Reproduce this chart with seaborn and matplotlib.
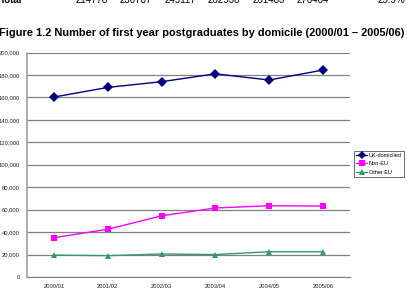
import pandas as pd
import matplotlib.pyplot as plt
import numpy as np
import seaborn as sns

# 연도 / 계열 값
years = ['2000/01', '2001/02', '2002/03', '2003/04', '2004/05', '2005/06']
uk_domiciled = [160300, 168900, 174000, 181000, 175500, 184400]
non_eu = [35000, 42500, 54500, 61500, 63500, 63200]
other_eu = [19500, 19000, 20500, 20000, 22500, 22500]
totals = ['214778', '230787', '249117', '262938', '261483', '276404']

df = pd.DataFrame({
    'year': years * 3,
    'value': uk_domiciled + non_eu + other_eu,
    'series': ['UK-domiciled'] * 6 + ['Non-EU'] * 6 + ['Other EU'] * 6,
})

sns.set_style('white')
plt.rcParams['font.family'] = ['Liberation Sans', 'DejaVu Sans']
plt.rcParams['text.color'] = 'black'

fig = plt.figure(figsize=(4.07, 2.92), dpi=100)
ax = fig.add_axes([27 / 407, 1 - 277 / 292, 323 / 407, 224.5 / 292])

palette = {'UK-domiciled': '#000080', 'Non-EU': '#FF00FF', 'Other EU': '#339966'}
markers = {'UK-domiciled': 'D', 'Non-EU': 's', 'Other EU': '^'}

sns.lineplot(data=df, x='year', y='value', hue='series', style='series',
             palette=palette, markers=markers, dashes=False, ax=ax,
             linewidth=1, markersize=5, markeredgewidth=0)

ax.set_xlim(-0.5, 5.5)
ax.set_ylim(0, 200000)
ax.set_yticks(np.arange(0, 200001, 20000))
ax.set_yticklabels([f'{v:,}' for v in range(0, 200001, 20000)])
ax.set_xticks(range(6))
ax.set_xticklabels(years)
ax.set_xticks(np.arange(-0.5, 6, 1), minor=True)
ax.tick_params(axis='x', which='major', length=0, labelsize=4.2, pad=5, colors='#222222')
ax.tick_params(axis='x', which='minor', length=3, width=0.6, color='#808080', direction='out')
ax.tick_params(axis='y', length=3, width=0.6, color='#808080', labelcolor='#222222',
               labelsize=4.2, pad=2)
ax.grid(axis='y', color='#808080', linewidth=0.9)
ax.set_axisbelow(True)
ax.set_xlabel('')
ax.set_ylabel('')
for s in ['top', 'right']:
    ax.spines[s].set_visible(False)
ax.spines['left'].set_color('#a0a0a0')
ax.spines['left'].set_linewidth(1.2)
ax.spines['bottom'].set_color('#808080')
ax.spines['bottom'].set_linewidth(0.8)

leg = ax.legend(loc='upper left', bbox_to_anchor=(354 / 407, 1 - 151 / 292),
                bbox_transform=fig.transFigure, fontsize=4.0, frameon=True,
                fancybox=False, edgecolor='#000000', handlelength=2.0,
                handletextpad=0.3, borderpad=0.35, labelspacing=0.6,
                borderaxespad=0, markerscale=0.8)
leg.get_frame().set_linewidth(0.5)
for t in leg.get_texts():
    t.set_color('black')

fig.text(-0.002, 1 - 33 / 292,
         'Figure 1.2 Number of first year postgraduates by domicile (2000/01 – 2005/06)',
         fontsize=7.9, fontweight='bold', va='center', ha='left', color='black')

# 위쪽 표의 잘린 마지막 행
fig.text(0.0, 1.0, 'Total', fontsize=7, fontweight='bold', va='center', ha='left')
xs = [76, 120, 165, 208, 253, 297]
for x, t in zip(xs, totals):
    fig.text(x / 407, 1.0, t, fontsize=7, va='center', ha='left')
fig.text(405 / 407, 1.0, '25.9%', fontsize=7, va='center', ha='right')

plt.savefig('out.png', dpi=100)
